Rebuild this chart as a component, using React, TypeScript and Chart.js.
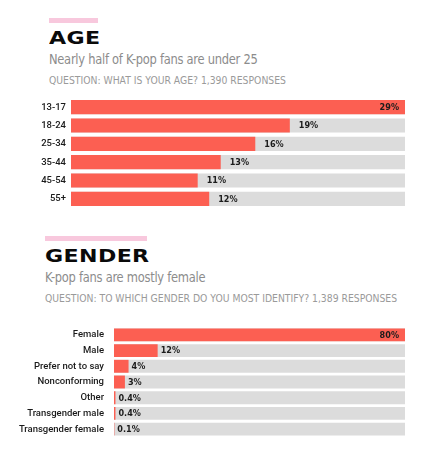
import React, { useRef, useEffect } from "react";
import { Chart, registerables } from "chart.js";

Chart.register(...registerables);

const ageLabels = ["13-17", "18-24", "25-34", "35-44", "45-54", "55+"];
const ageValues = [29, 19, 16, 13, 11, 12];
const ageMax = 29;

const genderLabels = [
  "Female",
  "Male",
  "Prefer not to say",
  "Nonconforming",
  "Other",
  "Transgender male",
  "Transgender female",
];
const genderValues = [80, 12, 4, 3, 0.4, 0.4, 0.1];
const genderMax = 80;

const RED = "#fc5f52";
const TRACK = "#dcdcdc";
const PINK = "#f8c8dd";
const LABEL_FONT = "'DejaVu Sans Condensed', 'DejaVu Sans', sans-serif";
const TEXT_FONT = "'Liberation Sans Narrow', 'DejaVu Sans Condensed', sans-serif";

type BarProps = {
  labels: string[];
  values: number[];
  max: number;
  axisWidth: number;
  labelGap: number;
  valueGap: number;
  thickness: number;
};

const valueLabelPlugin = {
  id: "valueLabels",
  afterDatasetsDraw(chart: any, _args: any, opts: any) {
    const ctx = chart.ctx;
    const meta = chart.getDatasetMeta(1);
    const data = chart.data.datasets[1].data as number[];
    ctx.save();
    ctx.font = "bold 9px " + LABEL_FONT;
    ctx.fillStyle = "#1c1c1c";
    ctx.textBaseline = "middle";
    meta.data.forEach((bar: any, i: number) => {
      const v = data[i];
      const txt = v + "%";
      if (v >= opts.max) {
        ctx.textAlign = "right";
        ctx.fillText(txt, bar.x - 6, bar.y + 0.5);
      } else {
        ctx.textAlign = "left";
        ctx.fillText(txt, bar.x + opts.gap, bar.y + 0.5);
      }
    });
    ctx.restore();
  },
};

const BarBlock = (props: BarProps) => {
  const canvasRef = useRef<HTMLCanvasElement>(null);

  useEffect(() => {
    if (!canvasRef.current) return;
    const chart = new Chart(canvasRef.current, {
      type: "bar",
      data: {
        labels: props.labels,
        datasets: [
          {
            data: props.labels.map(() => props.max),
            backgroundColor: TRACK,
            grouped: false,
            order: 2,
            barPercentage: 1,
            categoryPercentage: props.thickness,
          },
          {
            data: props.values,
            backgroundColor: RED,
            grouped: false,
            order: 1,
            barPercentage: 1,
            categoryPercentage: props.thickness,
          },
        ],
      },
      options: {
        indexAxis: "y",
        responsive: false,
        maintainAspectRatio: false,
        animation: false,
        layout: { padding: { left: 0, right: 33, top: 0, bottom: 0 } },
        plugins: {
          legend: { display: false },
          tooltip: { enabled: false },
          valueLabels: { max: props.max, gap: props.valueGap },
        } as any,
        scales: {
          x: { display: false, min: 0, max: props.max },
          y: {
            grid: { display: false, drawTicks: false },
            border: { display: false },
            ticks: {
              color: "#1a1a1a",
              padding: props.labelGap,
              font: { family: "Roboto, 'DejaVu Sans Condensed', sans-serif", size: 9.5, weight: 500 },
            },
            afterFit: (scale: any) => {
              // fixed label column, no extra top/bottom room for labels
              scale.width = props.axisWidth;
              scale.paddingTop = 0;
              scale.paddingBottom = 0;
            },
          },
        },
      },
      plugins: [valueLabelPlugin],
    });
    return () => {
      chart.destroy();
    };
  }, []);

  return <canvas ref={canvasRef} width={438} height={110} style={{ width: 438, height: 110 }} />;
};

const Heading = (props: { top: number; left: number; barWidth: number; title: string; sub: string; question: string }) => (
  <div style={{ position: "absolute", top: props.top, left: props.left }}>
    <div style={{ width: props.barWidth, height: 5, background: PINK }} />
    <div
      style={{
        marginTop: 7,
        fontFamily: "'DejaVu Sans', sans-serif",
        fontWeight: "bold",
        fontSize: 17,
        lineHeight: "17px",
        color: "#0a0a0a",
        transform: "scaleX(1.3)",
        transformOrigin: "left",
        letterSpacing: 0.3,
      }}
    >
      {props.title}
    </div>
    <div
      style={{
        marginTop: 4,
        fontFamily: TEXT_FONT,
        fontSize: 14.5,
        lineHeight: "16px",
        color: "#8c8c8c",
        letterSpacing: -0.3,
        whiteSpace: "nowrap",
        transform: "scaleX(0.88)",
        transformOrigin: "left",
      }}
    >
      {props.sub}
    </div>
    <div
      style={{
        marginTop: 7,
        fontFamily: TEXT_FONT,
        fontSize: 10.3,
        lineHeight: "12px",
        color: "#9a9a9a",
        whiteSpace: "nowrap",
      }}
    >
      {props.question}
    </div>
  </div>
);

export default function App() {
  return (
    <div style={{ position: "absolute", left: 0, top: 0, width: 438, height: 453, background: "#fff", overflow: "hidden" }}>
      <Heading
        top={18}
        left={49}
        barWidth={49}
        title="AGE"
        sub="Nearly half of K-pop fans are under 25"
        question="QUESTION: WHAT IS YOUR AGE? 1,390 RESPONSES"
      />
      <div style={{ position: "absolute", left: 0, top: 98 }}>
        <BarBlock labels={ageLabels} values={ageValues} max={ageMax} axisWidth={71} labelGap={5} valueGap={9} thickness={0.77} />
      </div>
      <Heading
        top={236}
        left={45}
        barWidth={102}
        title="GENDER"
        sub="K-pop fans are mostly female"
        question="QUESTION: TO WHICH GENDER DO YOU MOST IDENTIFY? 1,389 RESPONSES"
      />
      <div style={{ position: "absolute", left: 0, top: 327 }}>
        <BarBlock
          labels={genderLabels}
          values={genderValues}
          max={genderMax}
          axisWidth={114}
          labelGap={10}
          valueGap={3}
          thickness={0.82}
        />
      </div>
    </div>
  );
}
